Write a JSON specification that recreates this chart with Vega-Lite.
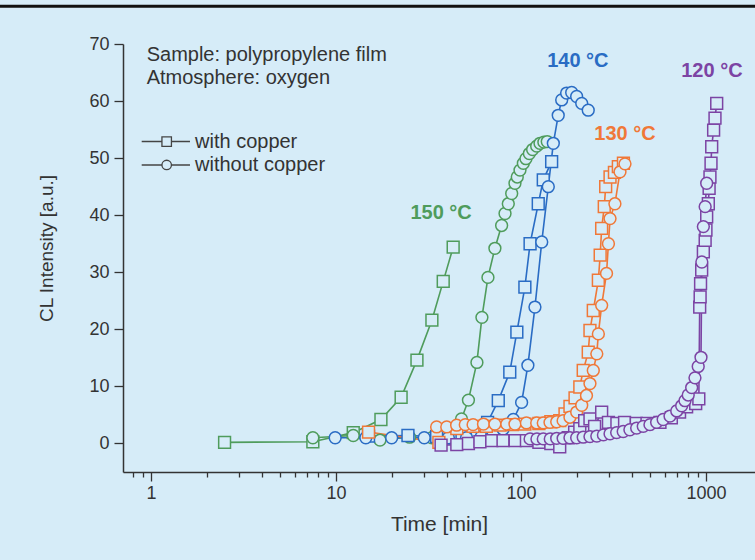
{
  "$schema": "https://vega.github.io/schema/vega-lite/v6.json",
  "width": 632,
  "height": 428,
  "autosize": {"type": "none"},
  "padding": {"left": 123, "top": 44, "right": 0, "bottom": 88},
  "background": "#d6ecf8",
  "config": {
    "view": {"stroke": null},
    "font": "Liberation Sans",
    "axis": {
      "domainColor": "#333333",
      "domainWidth": 1.5,
      "tickColor": "#333333",
      "tickWidth": 1.3,
      "labelColor": "#333333",
      "labelFontSize": 18,
      "titleColor": "#333333",
      "titleFontWeight": "normal",
      "grid": false
    }
  },
  "datasets": {
    "curves": [
      {"T": "150", "cu": "with", "t": 2.5, "v": 0.2},
      {"T": "150", "cu": "with", "t": 7.5, "v": 0.3},
      {"T": "150", "cu": "with", "t": 12.4, "v": 1.9},
      {"T": "150", "cu": "with", "t": 17.5, "v": 4.2},
      {"T": "150", "cu": "with", "t": 22.5, "v": 8.1},
      {"T": "150", "cu": "with", "t": 27.4, "v": 14.6},
      {"T": "150", "cu": "with", "t": 33, "v": 21.6},
      {"T": "150", "cu": "with", "t": 38, "v": 28.4},
      {"T": "150", "cu": "with", "t": 43, "v": 34.4},

      {"T": "150", "cu": "without", "t": 7.5, "v": 1.0},
      {"T": "150", "cu": "without", "t": 12.4, "v": 1.4},
      {"T": "150", "cu": "without", "t": 17.3, "v": 0.6},
      {"T": "150", "cu": "without", "t": 25, "v": 1.1},
      {"T": "150", "cu": "without", "t": 33, "v": 1.0},
      {"T": "150", "cu": "without", "t": 43, "v": 1.7},
      {"T": "150", "cu": "without", "t": 47.7, "v": 4.3},
      {"T": "150", "cu": "without", "t": 52, "v": 7.6},
      {"T": "150", "cu": "without", "t": 57.8, "v": 14.2},
      {"T": "150", "cu": "without", "t": 61.5, "v": 22.1},
      {"T": "150", "cu": "without", "t": 66.3, "v": 29.1},
      {"T": "150", "cu": "without", "t": 72.3, "v": 34.2},
      {"T": "150", "cu": "without", "t": 78.6, "v": 38.2},
      {"T": "150", "cu": "without", "t": 82, "v": 40.3},
      {"T": "150", "cu": "without", "t": 85.4, "v": 42.0},
      {"T": "150", "cu": "without", "t": 89.1, "v": 43.8},
      {"T": "150", "cu": "without", "t": 92.8, "v": 45.6},
      {"T": "150", "cu": "without", "t": 95.5, "v": 46.7},
      {"T": "150", "cu": "without", "t": 98.8, "v": 47.9},
      {"T": "150", "cu": "without", "t": 103, "v": 49.1},
      {"T": "150", "cu": "without", "t": 106.4, "v": 49.9},
      {"T": "150", "cu": "without", "t": 111, "v": 50.8},
      {"T": "150", "cu": "without", "t": 115.6, "v": 51.5},
      {"T": "150", "cu": "without", "t": 121.6, "v": 52.1},
      {"T": "150", "cu": "without", "t": 126.7, "v": 52.6},
      {"T": "150", "cu": "without", "t": 133, "v": 52.8},
      {"T": "150", "cu": "without", "t": 138.7, "v": 52.9},

      {"T": "140", "cu": "with", "t": 15, "v": 1.3},
      {"T": "140", "cu": "with", "t": 24.5, "v": 1.4},
      {"T": "140", "cu": "with", "t": 35, "v": 1.2},
      {"T": "140", "cu": "with", "t": 48, "v": 1.4},
      {"T": "140", "cu": "with", "t": 58, "v": 1.8},
      {"T": "140", "cu": "with", "t": 66, "v": 3.7},
      {"T": "140", "cu": "with", "t": 75.4, "v": 7.5},
      {"T": "140", "cu": "with", "t": 87, "v": 12.5},
      {"T": "140", "cu": "with", "t": 95, "v": 19.5},
      {"T": "140", "cu": "with", "t": 105, "v": 27.4},
      {"T": "140", "cu": "with", "t": 112, "v": 35.0},
      {"T": "140", "cu": "with", "t": 124, "v": 42.0},
      {"T": "140", "cu": "with", "t": 132, "v": 46.2},
      {"T": "140", "cu": "with", "t": 146.5, "v": 49.4},

      {"T": "140", "cu": "without", "t": 9.9, "v": 1.0},
      {"T": "140", "cu": "without", "t": 14.5, "v": 1.0},
      {"T": "140", "cu": "without", "t": 20, "v": 1.0},
      {"T": "140", "cu": "without", "t": 30, "v": 1.0},
      {"T": "140", "cu": "without", "t": 40.5, "v": 1.0},
      {"T": "140", "cu": "without", "t": 50.8, "v": 1.0},
      {"T": "140", "cu": "without", "t": 61, "v": 1.2},
      {"T": "140", "cu": "without", "t": 70.8, "v": 1.7},
      {"T": "140", "cu": "without", "t": 80, "v": 2.5},
      {"T": "140", "cu": "without", "t": 90.9, "v": 4.2},
      {"T": "140", "cu": "without", "t": 100.8, "v": 7.2},
      {"T": "140", "cu": "without", "t": 109, "v": 13.7},
      {"T": "140", "cu": "without", "t": 119, "v": 23.9},
      {"T": "140", "cu": "without", "t": 129.5, "v": 35.3},
      {"T": "140", "cu": "without", "t": 140.5, "v": 45.0},
      {"T": "140", "cu": "without", "t": 149.6, "v": 52.6},
      {"T": "140", "cu": "without", "t": 159, "v": 57.5},
      {"T": "140", "cu": "without", "t": 166, "v": 60.2},
      {"T": "140", "cu": "without", "t": 176.5, "v": 61.4},
      {"T": "140", "cu": "without", "t": 188, "v": 61.5},
      {"T": "140", "cu": "without", "t": 200, "v": 60.8},
      {"T": "140", "cu": "without", "t": 213, "v": 59.6},
      {"T": "140", "cu": "without", "t": 231, "v": 58.4},

      {"T": "130", "cu": "with", "t": 15, "v": 2.0},
      {"T": "130", "cu": "with", "t": 36, "v": 0.2},
      {"T": "130", "cu": "with", "t": 45, "v": 2.6},
      {"T": "130", "cu": "with", "t": 55, "v": 3.0},
      {"T": "130", "cu": "with", "t": 65, "v": 3.0},
      {"T": "130", "cu": "with", "t": 77, "v": 3.2},
      {"T": "130", "cu": "with", "t": 90, "v": 3.3},
      {"T": "130", "cu": "with", "t": 105, "v": 3.4},
      {"T": "130", "cu": "with", "t": 125, "v": 3.5},
      {"T": "130", "cu": "with", "t": 145, "v": 3.8},
      {"T": "130", "cu": "with", "t": 162, "v": 4.0},
      {"T": "130", "cu": "with", "t": 173, "v": 5.2},
      {"T": "130", "cu": "with", "t": 184, "v": 6.5},
      {"T": "130", "cu": "with", "t": 196, "v": 8.0},
      {"T": "130", "cu": "with", "t": 208, "v": 9.9},
      {"T": "130", "cu": "with", "t": 217, "v": 12.8},
      {"T": "130", "cu": "with", "t": 231, "v": 16.0},
      {"T": "130", "cu": "with", "t": 236, "v": 19.8},
      {"T": "130", "cu": "with", "t": 246, "v": 23.3},
      {"T": "130", "cu": "with", "t": 262, "v": 28.6},
      {"T": "130", "cu": "with", "t": 268, "v": 33.0},
      {"T": "130", "cu": "with", "t": 273, "v": 37.7},
      {"T": "130", "cu": "with", "t": 282, "v": 41.5},
      {"T": "130", "cu": "with", "t": 287, "v": 45.0},
      {"T": "130", "cu": "with", "t": 303, "v": 46.7},
      {"T": "130", "cu": "with", "t": 320, "v": 47.5},
      {"T": "130", "cu": "with", "t": 336, "v": 48.5},
      {"T": "130", "cu": "with", "t": 358, "v": 49.1},

      {"T": "130", "cu": "without", "t": 35, "v": 2.9},
      {"T": "130", "cu": "without", "t": 39.7, "v": 2.9},
      {"T": "130", "cu": "without", "t": 44.9, "v": 3.2},
      {"T": "130", "cu": "without", "t": 50, "v": 3.3},
      {"T": "130", "cu": "without", "t": 55.1, "v": 3.3},
      {"T": "130", "cu": "without", "t": 62.7, "v": 3.4},
      {"T": "130", "cu": "without", "t": 72.3, "v": 3.4},
      {"T": "130", "cu": "without", "t": 83.8, "v": 3.4},
      {"T": "130", "cu": "without", "t": 92.8, "v": 3.4},
      {"T": "130", "cu": "without", "t": 107, "v": 3.6},
      {"T": "130", "cu": "without", "t": 121.6, "v": 3.6},
      {"T": "130", "cu": "without", "t": 132, "v": 3.6},
      {"T": "130", "cu": "without", "t": 143.5, "v": 3.7},
      {"T": "130", "cu": "without", "t": 156, "v": 3.8},
      {"T": "130", "cu": "without", "t": 169, "v": 4.0},
      {"T": "130", "cu": "without", "t": 184, "v": 4.6},
      {"T": "130", "cu": "without", "t": 200, "v": 5.5},
      {"T": "130", "cu": "without", "t": 213, "v": 6.7},
      {"T": "130", "cu": "without", "t": 226, "v": 8.4},
      {"T": "130", "cu": "without", "t": 236, "v": 10.5},
      {"T": "130", "cu": "without", "t": 246, "v": 12.8},
      {"T": "130", "cu": "without", "t": 257, "v": 15.7},
      {"T": "130", "cu": "without", "t": 262, "v": 19.2},
      {"T": "130", "cu": "without", "t": 273, "v": 24.2},
      {"T": "130", "cu": "without", "t": 290, "v": 29.8},
      {"T": "130", "cu": "without", "t": 297, "v": 35.0},
      {"T": "130", "cu": "without", "t": 303, "v": 39.4},
      {"T": "130", "cu": "without", "t": 322, "v": 42.0},
      {"T": "130", "cu": "without", "t": 343, "v": 47.6},
      {"T": "130", "cu": "without", "t": 365, "v": 49.0},

      {"T": "120", "cu": "with", "t": 37, "v": -0.3},
      {"T": "120", "cu": "with", "t": 45, "v": -0.2},
      {"T": "120", "cu": "with", "t": 52, "v": 0.0},
      {"T": "120", "cu": "with", "t": 60, "v": 0.3},
      {"T": "120", "cu": "with", "t": 69.5, "v": 0.5},
      {"T": "120", "cu": "with", "t": 80, "v": 0.5},
      {"T": "120", "cu": "with", "t": 93, "v": 0.5},
      {"T": "120", "cu": "with", "t": 107, "v": 0.5},
      {"T": "120", "cu": "with", "t": 125, "v": 0.2},
      {"T": "120", "cu": "with", "t": 145, "v": 0.0},
      {"T": "120", "cu": "with", "t": 162, "v": -0.6},
      {"T": "120", "cu": "with", "t": 180, "v": 1.0},
      {"T": "120", "cu": "with", "t": 195, "v": 2.0},
      {"T": "120", "cu": "with", "t": 208, "v": 2.6},
      {"T": "120", "cu": "with", "t": 221, "v": 4.0},
      {"T": "120", "cu": "with", "t": 236, "v": 4.3},
      {"T": "120", "cu": "with", "t": 250, "v": 3.0},
      {"T": "120", "cu": "with", "t": 273, "v": 5.5},
      {"T": "120", "cu": "with", "t": 297, "v": 3.7},
      {"T": "120", "cu": "with", "t": 330, "v": 3.5},
      {"T": "120", "cu": "with", "t": 363, "v": 3.7},
      {"T": "120", "cu": "with", "t": 420, "v": 3.5},
      {"T": "120", "cu": "with", "t": 480, "v": 3.5},
      {"T": "120", "cu": "with", "t": 564, "v": 3.7},
      {"T": "120", "cu": "with", "t": 650, "v": 4.5},
      {"T": "120", "cu": "with", "t": 720, "v": 5.5},
      {"T": "120", "cu": "with", "t": 786, "v": 6.4},
      {"T": "120", "cu": "with", "t": 880, "v": 7.0},
      {"T": "120", "cu": "with", "t": 915, "v": 7.8},
      {"T": "120", "cu": "with", "t": 925, "v": 23.9},
      {"T": "120", "cu": "with", "t": 930, "v": 25.7},
      {"T": "120", "cu": "with", "t": 935, "v": 28.0},
      {"T": "120", "cu": "with", "t": 948, "v": 30.4},
      {"T": "120", "cu": "with", "t": 968, "v": 33.6},
      {"T": "120", "cu": "with", "t": 990, "v": 35.6},
      {"T": "120", "cu": "with", "t": 1000, "v": 37.4},
      {"T": "120", "cu": "with", "t": 1009, "v": 39.7},
      {"T": "120", "cu": "with", "t": 1030, "v": 42.0},
      {"T": "120", "cu": "with", "t": 1040, "v": 44.7},
      {"T": "120", "cu": "with", "t": 1051, "v": 46.7},
      {"T": "120", "cu": "with", "t": 1065, "v": 49.1},
      {"T": "120", "cu": "with", "t": 1074, "v": 52.0},
      {"T": "120", "cu": "with", "t": 1100, "v": 54.9},
      {"T": "120", "cu": "with", "t": 1119, "v": 57.0},
      {"T": "120", "cu": "with", "t": 1143, "v": 59.6},

      {"T": "120", "cu": "without", "t": 112, "v": 0.8},
      {"T": "120", "cu": "without", "t": 122, "v": 0.8},
      {"T": "120", "cu": "without", "t": 132, "v": 0.8},
      {"T": "120", "cu": "without", "t": 144, "v": 0.8},
      {"T": "120", "cu": "without", "t": 156, "v": 0.9},
      {"T": "120", "cu": "without", "t": 169, "v": 0.9},
      {"T": "120", "cu": "without", "t": 184, "v": 1.0},
      {"T": "120", "cu": "without", "t": 200, "v": 1.0},
      {"T": "120", "cu": "without", "t": 217, "v": 1.1},
      {"T": "120", "cu": "without", "t": 236, "v": 1.2},
      {"T": "120", "cu": "without", "t": 257, "v": 1.3},
      {"T": "120", "cu": "without", "t": 279, "v": 1.5},
      {"T": "120", "cu": "without", "t": 303, "v": 1.7},
      {"T": "120", "cu": "without", "t": 329, "v": 1.9},
      {"T": "120", "cu": "without", "t": 357, "v": 2.1},
      {"T": "120", "cu": "without", "t": 388, "v": 2.4},
      {"T": "120", "cu": "without", "t": 422, "v": 2.7},
      {"T": "120", "cu": "without", "t": 458, "v": 3.0},
      {"T": "120", "cu": "without", "t": 498, "v": 3.3},
      {"T": "120", "cu": "without", "t": 541, "v": 3.7},
      {"T": "120", "cu": "without", "t": 587, "v": 4.2},
      {"T": "120", "cu": "without", "t": 639, "v": 4.8},
      {"T": "120", "cu": "without", "t": 695, "v": 5.7},
      {"T": "120", "cu": "without", "t": 739, "v": 6.6},
      {"T": "120", "cu": "without", "t": 770, "v": 7.5},
      {"T": "120", "cu": "without", "t": 802, "v": 8.5},
      {"T": "120", "cu": "without", "t": 837, "v": 9.8},
      {"T": "120", "cu": "without", "t": 872, "v": 11.5},
      {"T": "120", "cu": "without", "t": 908, "v": 13.5},
      {"T": "120", "cu": "without", "t": 940, "v": 15.1},
      {"T": "120", "cu": "without", "t": 950, "v": 31.8},
      {"T": "120", "cu": "without", "t": 968, "v": 38.0},
      {"T": "120", "cu": "without", "t": 990, "v": 41.5},
      {"T": "120", "cu": "without", "t": 1009, "v": 45.6}
    ],
    "temps": [
      {"txt": "150 °C", "T": "150", "t": 37, "v": 40.4},
      {"txt": "140 °C", "T": "140", "t": 203, "v": 67.0},
      {"txt": "130 °C", "T": "130", "t": 365, "v": 54.2},
      {"txt": "120 °C", "T": "120", "t": 1077, "v": 65.3}
    ],
    "notes": [
      {"txt": "Sample: polypropylene film", "t": 0.948, "v": 68.1},
      {"txt": "Atmosphere: oxygen", "t": 0.948, "v": 64.0}
    ],
    "key": [
      {"cu": "with", "label": "with copper", "a": 0.891, "b": 1.625, "m": 1.216, "tx": 1.73, "v": 52.9},
      {"cu": "without", "label": "without copper", "a": 0.891, "b": 1.625, "m": 1.216, "tx": 1.73, "v": 48.8}
    ],
    "frame": [
      {"x1": 0.12, "x2": 2500, "y": 76.6}
    ]
  },
  "layer": [
    {
      "data": {"name": "curves"},
      "mark": {"type": "line", "strokeWidth": 1.6},
      "encoding": {
        "x": {
          "field": "t", "type": "quantitative",
          "scale": {"type": "log", "domain": [0.706, 1841], "nice": false},
          "axis": {
            "title": "Time [min]",
            "titleFontSize": 21,
            "titlePadding": 11,
            "values": [0.8, 0.9, 1, 2, 3, 4, 5, 6, 7, 8, 9, 10, 20, 30, 40, 50, 60, 70, 80, 90, 100, 200, 300, 400, 500, 600, 700, 800, 900, 1000],
            "format": "d",
            "labelExpr": "indexof([1, 10, 100, 1000], datum.value) >= 0 ? format(datum.value, 'd') : ''",
            "tickSize": {"condition": {"test": "indexof([1, 10, 100, 1000], datum.value) >= 0", "value": 9}, "value": 5},
            "labelPadding": 3,
            "labelFlush": false,
            "labelOverlap": false
          }
        },
        "y": {
          "field": "v", "type": "quantitative",
          "scale": {"domain": [-5, 70], "nice": false, "zero": false},
          "axis": {
            "title": "CL Intensity [a.u.]",
            "titleFontSize": 19,
            "titlePadding": 32,
            "titleY": 204,
            "values": [0, 5, 10, 15, 20, 25, 30, 35, 40, 45, 50, 55, 60, 65, 70],
            "labelExpr": "datum.value % 10 === 0 ? datum.label : ''",
            "tickSize": {"condition": {"test": "datum.value % 10 === 0", "value": 9}, "value": 5},
            "labelPadding": 5,
            "labelFlush": false,
            "labelOverlap": false
          }
        },
        "color": {
          "field": "T", "type": "nominal",
          "scale": {"domain": ["150", "140", "130", "120"], "range": ["#4f9c5c", "#2a6cc4", "#f07838", "#7c44a4"]},
          "legend": null
        },
        "detail": {"field": "cu"}
      }
    },
    {
      "data": {"name": "curves"},
      "mark": {"type": "point", "filled": true, "fill": "#d6ecf8", "size": 140, "strokeWidth": 1.5, "opacity": 1},
      "encoding": {
        "x": {"field": "t", "type": "quantitative"},
        "y": {"field": "v", "type": "quantitative"},
        "stroke": {
          "field": "T", "type": "nominal",
          "scale": {"domain": ["150", "140", "130", "120"], "range": ["#4f9c5c", "#2a6cc4", "#f07838", "#7c44a4"]},
          "legend": null
        },
        "shape": {
          "field": "cu", "type": "nominal",
          "scale": {"domain": ["with", "without"], "range": ["square", "circle"]},
          "legend": null
        }
      }
    },
    {
      "data": {"name": "temps"},
      "mark": {"type": "text", "fontSize": 20, "fontWeight": "bold", "align": "center", "baseline": "middle"},
      "encoding": {
        "x": {"field": "t", "type": "quantitative"},
        "y": {"field": "v", "type": "quantitative"},
        "text": {"field": "txt"},
        "color": {"field": "T", "type": "nominal", "legend": null}
      }
    },
    {
      "data": {"name": "notes"},
      "mark": {"type": "text", "fontSize": 20, "align": "left", "baseline": "middle", "color": "#333333"},
      "encoding": {
        "x": {"field": "t", "type": "quantitative"},
        "y": {"field": "v", "type": "quantitative"},
        "text": {"field": "txt"}
      }
    },
    {
      "data": {"name": "key"},
      "mark": {"type": "rule", "color": "#444444", "strokeWidth": 1.5},
      "encoding": {
        "x": {"field": "a", "type": "quantitative"},
        "x2": {"field": "b"},
        "y": {"field": "v", "type": "quantitative"}
      }
    },
    {
      "data": {"name": "key"},
      "mark": {"type": "point", "filled": true, "fill": "#d6ecf8", "stroke": "#444444", "size": 90, "strokeWidth": 1.3, "opacity": 1},
      "encoding": {
        "x": {"field": "m", "type": "quantitative"},
        "y": {"field": "v", "type": "quantitative"},
        "shape": {"field": "cu", "type": "nominal", "legend": null}
      }
    },
    {
      "data": {"name": "key"},
      "mark": {"type": "text", "fontSize": 20, "align": "left", "baseline": "middle", "color": "#333333"},
      "encoding": {
        "x": {"field": "tx", "type": "quantitative"},
        "y": {"field": "v", "type": "quantitative"},
        "text": {"field": "label"}
      }
    },
    {
      "data": {"name": "frame"},
      "mark": {"type": "rule", "color": "#111111", "strokeWidth": 3},
      "encoding": {
        "x": {"field": "x1", "type": "quantitative"},
        "x2": {"field": "x2"},
        "y": {"field": "y", "type": "quantitative"}
      }
    }
  ]
}
